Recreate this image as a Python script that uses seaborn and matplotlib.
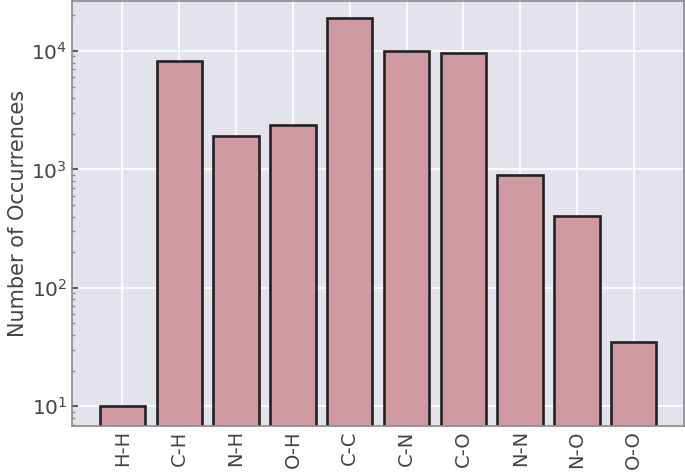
import matplotlib
matplotlib.use("Agg")
import matplotlib.pyplot as plt
import seaborn as sns
import pandas as pd

# bond types and how often each one shows up
bond_types = ["H-H", "C-H", "N-H", "O-H", "C-C", "C-N", "C-O", "N-N", "N-O", "O-O"]
counts = [10, 8230, 1930, 2370, 18900, 10100, 9690, 890, 406, 35]

df = pd.DataFrame({"bond": bond_types, "count": counts})

sns.set_theme(style="darkgrid", rc={
    "axes.facecolor": "#E3E3ED",
    "axes.edgecolor": "#8a8a8a",
    "axes.linewidth": 1.2,
    "xtick.direction": "in",
    "ytick.direction": "in",
    "xtick.bottom": True,
    "ytick.left": True,
    "ytick.minor.visible": True,
    "ytick.major.size": 4,
    "ytick.minor.size": 2.5,
    "xtick.major.size": 0,
    "xtick.color": "#444444",
    "ytick.color": "#444444",
    "axes.labelcolor": "#444444",
})
plt.rcParams["font.family"] = ["DejaVu Sans"]

fig = plt.figure(figsize=(6.85, 4.73), dpi=100)
ax = fig.add_axes([0.105, 0.099, 0.894, 0.899])

sns.barplot(data=df, x="bond", y="count", color="#CF99A1", saturation=1,
            edgecolor="#222222", linewidth=1.9, width=0.8, ax=ax)
ax.set_yscale("log")
ax.set_ylim(6.78, 26500)
ax.set_xlim(-0.89, 9.89)

ax.set_xlabel("")
ax.set_ylabel("Number of Occurrences", fontsize=15, labelpad=2)
ax.tick_params(axis="x", labelsize=14, rotation=90, pad=3)
ax.tick_params(axis="y", which="major", labelsize=14.5)
ax.tick_params(axis="y", which="minor", color="#8a8a8a")
ax.grid(True, which="major", color="white", linewidth=1.2)
ax.grid(False, which="minor")
for s in ax.spines.values():
    s.set_visible(True)

fig.savefig("out.png", dpi=100)
